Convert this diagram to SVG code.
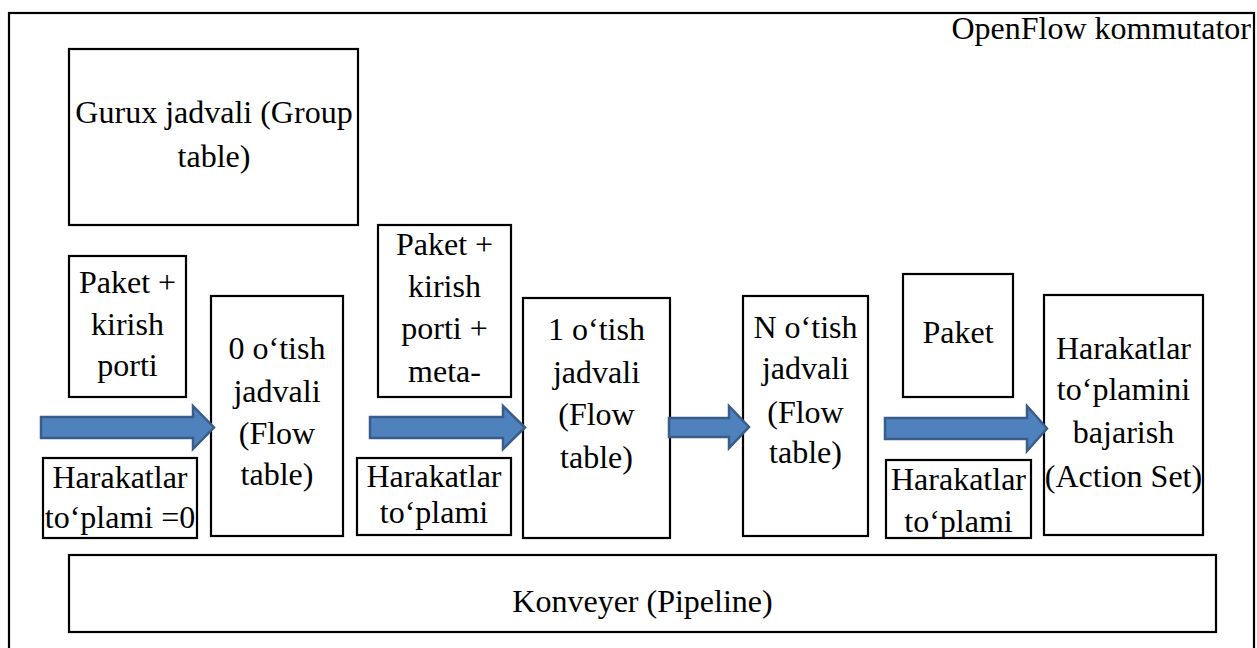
<svg xmlns="http://www.w3.org/2000/svg" width="1257" height="648" viewBox="0 0 1257 648">
<style>
.box{fill:#fff;stroke:#000;stroke-width:2.2}
.t{font-family:'Liberation Serif','Times New Roman',Tinos,'DejaVu Serif',serif;font-size:32px;fill:#000;text-anchor:middle}
.arr{fill:#4f81bd;stroke:#385d8a;stroke-width:2.5;stroke-linejoin:miter}
</style>
<rect width="1257" height="648" fill="#fff"/>
<g id="frame">
<rect x="9" y="13" width="1245" height="660" fill="none" stroke="#000" stroke-width="2.2"/>
<text class="t" x="1251" y="39" style="text-anchor:end">OpenFlow kommutator</text>
</g>
<g id="group-table">
<rect class="box" x="69" y="49" width="289" height="176"/>
<text class="t" x="214" y="123">Gurux jadvali (Group</text>
<text class="t" x="214" y="167">table)</text>
</g>
<g id="packet1">
<rect class="box" x="69" y="256" width="117" height="141"/>
<text class="t" x="127.5" y="293">Paket +</text>
<text class="t" x="127.5" y="335">kirish</text>
<text class="t" x="127.5" y="376">porti</text>
</g>
<g id="actions1">
<rect class="box" x="43" y="458" width="154" height="80"/>
<text class="t" x="120" y="488">Harakatlar</text>
<text class="t" x="120" y="528">to‘plami =0</text>
</g>
<g id="flow0">
<rect class="box" x="211" y="296" width="132" height="240"/>
<text class="t" x="277" y="359">0 o‘tish</text>
<text class="t" x="277" y="402">jadvali</text>
<text class="t" x="277" y="444">(Flow</text>
<text class="t" x="277" y="485">table)</text>
</g>
<g id="packet2">
<rect class="box" x="378" y="225" width="133" height="172"/>
<text class="t" x="444.5" y="255">Paket +</text>
<text class="t" x="444.5" y="297">kirish</text>
<text class="t" x="444.5" y="339">porti +</text>
<text class="t" x="444.5" y="382">meta-</text>
</g>
<g id="actions2">
<rect class="box" x="357" y="458" width="154" height="77"/>
<text class="t" x="434" y="487">Harakatlar</text>
<text class="t" x="434" y="523">to‘plami</text>
</g>
<g id="flow1">
<rect class="box" x="523" y="298" width="147" height="240"/>
<text class="t" x="596.5" y="340">1 o‘tish</text>
<text class="t" x="596.5" y="383">jadvali</text>
<text class="t" x="596.5" y="425">(Flow</text>
<text class="t" x="596.5" y="468">table)</text>
</g>
<g id="flowN">
<rect class="box" x="743" y="296" width="125" height="240"/>
<text class="t" x="805.5" y="338">N o‘tish</text>
<text class="t" x="805.5" y="379">jadvali</text>
<text class="t" x="805.5" y="423">(Flow</text>
<text class="t" x="805.5" y="463">table)</text>
</g>
<g id="packet3">
<rect class="box" x="903" y="274" width="110" height="123"/>
<text class="t" x="958" y="343">Paket</text>
</g>
<g id="actions3">
<rect class="box" x="886" y="460" width="145" height="78"/>
<text class="t" x="958.5" y="490">Harakatlar</text>
<text class="t" x="958.5" y="532">to‘plami</text>
</g>
<g id="action-set">
<rect class="box" x="1044" y="295" width="159" height="240"/>
<text class="t" x="1123.5" y="359">Harakatlar</text>
<text class="t" x="1123.5" y="400">to‘plamini</text>
<text class="t" x="1123.5" y="443">bajarish</text>
<text class="t" x="1123.5" y="487">(Action Set)</text>
</g>
<g id="pipeline">
<rect class="box" x="69" y="555" width="1147" height="77"/>
<text class="t" x="642.5" y="612">Konveyer (Pipeline)</text>
</g>
<g id="connectors">
<polygon class="arr" points="41,417 193,417 193,406 214,427.5 193,449 193,438 41,438"/>
<polygon class="arr" points="370,417 503,417 503,406 525,427.5 503,449 503,438 370,438"/>
<polygon class="arr" points="669,418 729,418 729,406 749,427 729,448 729,437 669,437"/>
<polygon class="arr" points="885,418 1027,418 1027,406 1047,428.5 1027,451 1027,439 885,439"/>
</g>
</svg>
